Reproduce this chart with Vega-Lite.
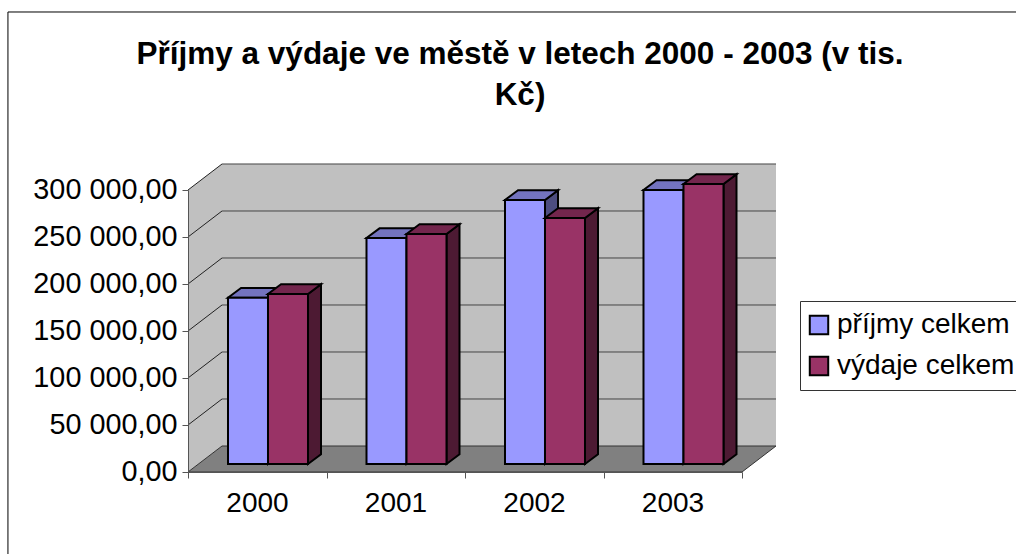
{
"$schema":"https://vega.github.io/schema/vega-lite/v6.json",
"width":1016,"height":554,"padding":0,"autosize":{"type":"none"},"background":"white",
"config":{"view":{"stroke":null},"font":"Liberation Sans"},
"title":{"text":["Příjmy a výdaje ve městě v letech 2000 - 2003 (v tis.","Kč)"],"font":"Liberation Sans","fontSize":31.5,"fontWeight":"bold","color":"#000","anchor":"middle","dx":12,"offset":-111,"lineHeight":41},
"datasets":{
"bars":[
{"year":2000,"series":"příjmy celkem","slot":0,"value":176900},
{"year":2000,"series":"výdaje celkem","slot":1,"value":180900},
{"year":2001,"series":"příjmy celkem","slot":0,"value":240400},
{"year":2001,"series":"výdaje celkem","slot":1,"value":244700},
{"year":2002,"series":"příjmy celkem","slot":0,"value":280900},
{"year":2002,"series":"výdaje celkem","slot":1,"value":261700},
{"year":2003,"series":"příjmy celkem","slot":0,"value":291500},
{"year":2003,"series":"výdaje celkem","slot":1,"value":297900}
],
"ticks":[{"tick":0},{"tick":50000},{"tick":100000},{"tick":150000},{"tick":200000},{"tick":250000},{"tick":300000}]
},
"layer":[
{"data":{"values":[{"part":"chart area"}]},"mark":{"type":"rect","fill":"white","stroke":"#000","strokeWidth":1},
 "encoding":{
  "x":{"datum":-1.3,"type":"quantitative","title":null,"scale":{"domain":[0,4],"range":[188,742],"nice":false,"zero":false},
   "axis":{"values":[0,1,2,3,4],"labelExpr":"['2000','2001','2002','2003',''][datum.value]","labelOffset":69,"offset":-82,"grid":false,"domainColor":"#555","tickColor":"#555","tickSize":6,"labelFontSize":28,"labelFont":"Liberation Sans","labelColor":"#000","labelPadding":11,"labelOverlap":false,"labelFlush":false,"labelBound":false,"zindex":1,"title":null}},
  "x2":{"datum":6},
  "y":{"datum":489362,"type":"quantitative","title":null,"scale":{"domain":[0,300000],"range":[472,190],"nice":false,"zero":false},
   "axis":{"values":[0,50000,100000,150000,200000,250000,300000],"labelExpr":"replace(replace(format(datum.value,',.2f'),',',' '),'.',',')","offset":-188,"grid":false,"domainColor":"#555","tickColor":"#555","tickSize":6,"labelFontSize":28.8,"labelFont":"Liberation Sans","labelColor":"#000","labelPadding":5,"labelOffset":-1,"labelOverlap":false,"labelFlush":false,"labelBound":false,"zindex":1,"title":null}},
  "y2":{"datum":-100000}
 }},
{"data":{"values":[{"part":"back wall"}]},"mark":{"type":"rect","fill":"#C0C0C0"},
 "encoding":{"x":{"datum":0.2455,"type":"quantitative"},"x2":{"datum":4.2455},"y":{"datum":27660,"type":"quantitative"},"y2":{"datum":327660}}},
{"data":{"values":[{"t":0},{"t":1}]},"transform":[{"calculate":"datum.t*0.2455","as":"xs"},{"calculate":"datum.t*27660","as":"yb"},{"calculate":"300000+datum.t*27660","as":"yt"}],"mark":{"type":"area","fill":"#C0C0C0"},
 "encoding":{"x":{"field":"xs","type":"quantitative"},"y":{"field":"yb","type":"quantitative","stack":null},"y2":{"field":"yt"}}},
{"data":{"values":[{"t":0},{"t":1}]},"transform":[{"calculate":"datum.t*27660","as":"yy"},{"calculate":"datum.t*0.2455","as":"xa"},{"calculate":"4+datum.t*0.2455","as":"xb"}],"mark":{"type":"area","orient":"horizontal","fill":"#808080","stroke":"#333","strokeWidth":1},
 "encoding":{"y":{"field":"yy","type":"quantitative"},"x":{"field":"xa","type":"quantitative","stack":null},"x2":{"field":"xb"}}},
{"data":{"name":"ticks"},"transform":[{"filter":"datum.tick>0"},{"calculate":"datum.tick+27660","as":"back"}],"mark":{"type":"rule","color":"#222","strokeWidth":1},
 "encoding":{"x":{"datum":0,"type":"quantitative"},"x2":{"datum":0.2455},"y":{"field":"tick","type":"quantitative"},"y2":{"field":"back"}}},
{"data":{"name":"ticks"},"transform":[{"filter":"datum.tick>0"},{"calculate":"datum.tick+27660","as":"back"}],"mark":{"type":"rule","color":"#444","strokeWidth":1},
 "encoding":{"x":{"datum":0.2455,"type":"quantitative"},"x2":{"datum":4.2455},"y":{"field":"back","type":"quantitative"}}},
{"data":{"name":"bars"},
 "transform":[
  {"calculate":"datum.year-2000+0.2888+datum.slot*0.2888","as":"xl"},
  {"calculate":"datum.xl+0.2888","as":"xr"},
  {"calculate":"datum.value+8511","as":"top"},
  {"calculate":"[0,1]","as":"t"},
  {"flatten":["t"]},
  {"calculate":"datum.xr+datum.t*0.0939","as":"sx"},
  {"calculate":"8511+datum.t*10319","as":"sb"},
  {"calculate":"datum.top+datum.t*10319","as":"st"},
  {"calculate":"datum.xl+datum.t*0.0939","as":"ta"},
  {"calculate":"datum.xr+datum.t*0.0939","as":"tb"},
  {"calculate":"8511","as":"base"}
 ],
 "layer":[
  {"transform":[{"filter":"datum.slot==0"}],"mark":{"type":"area","fill":"#4D4D80","stroke":"#000","strokeWidth":2},"encoding":{"detail":{"field":"year"},"x":{"field":"sx","type":"quantitative"},"y":{"field":"sb","type":"quantitative","stack":null},"y2":{"field":"st"}}},
  {"transform":[{"filter":"datum.slot==0"}],"mark":{"type":"area","orient":"horizontal","fill":"#7373BF","stroke":"#000","strokeWidth":2},"encoding":{"detail":{"field":"year"},"y":{"field":"st","type":"quantitative"},"x":{"field":"ta","type":"quantitative","stack":null},"x2":{"field":"tb"}}},
  {"transform":[{"filter":"datum.slot==0 && datum.t==0"}],"mark":{"type":"rect","stroke":"#000","strokeWidth":2},"encoding":{"x":{"field":"xl","type":"quantitative"},"x2":{"field":"xr"},"y":{"field":"top","type":"quantitative"},"y2":{"field":"base"},
    "color":{"field":"series","type":"nominal","scale":{"domain":["příjmy celkem","výdaje celkem"],"range":["#9999FF","#993366"]},
     "legend":{"title":null,"orient":"none","legendX":800,"legendY":301,"padding":10,"strokeColor":"#333","fillColor":"white","symbolType":"square","symbolSize":340,"symbolOffset":-5,"symbolStrokeColor":"#000","symbolStrokeWidth":2,"labelFont":"Liberation Sans","labelFontSize":28,"labelColor":"#000","labelOffset":4,"rowPadding":13,"labelLimit":300}}}},
  {"transform":[{"filter":"datum.slot==1"}],"mark":{"type":"area","fill":"#4D1A33","stroke":"#000","strokeWidth":2},"encoding":{"detail":{"field":"year"},"x":{"field":"sx","type":"quantitative"},"y":{"field":"sb","type":"quantitative","stack":null},"y2":{"field":"st"}}},
  {"transform":[{"filter":"datum.slot==1"}],"mark":{"type":"area","orient":"horizontal","fill":"#73264D","stroke":"#000","strokeWidth":2},"encoding":{"detail":{"field":"year"},"y":{"field":"st","type":"quantitative"},"x":{"field":"ta","type":"quantitative","stack":null},"x2":{"field":"tb"}}},
  {"transform":[{"filter":"datum.slot==1 && datum.t==0"}],"mark":{"type":"rect","stroke":"#000","strokeWidth":2},"encoding":{"x":{"field":"xl","type":"quantitative"},"x2":{"field":"xr"},"y":{"field":"top","type":"quantitative"},"y2":{"field":"base"},"color":{"field":"series","type":"nominal"}}}
 ]}
]
}
